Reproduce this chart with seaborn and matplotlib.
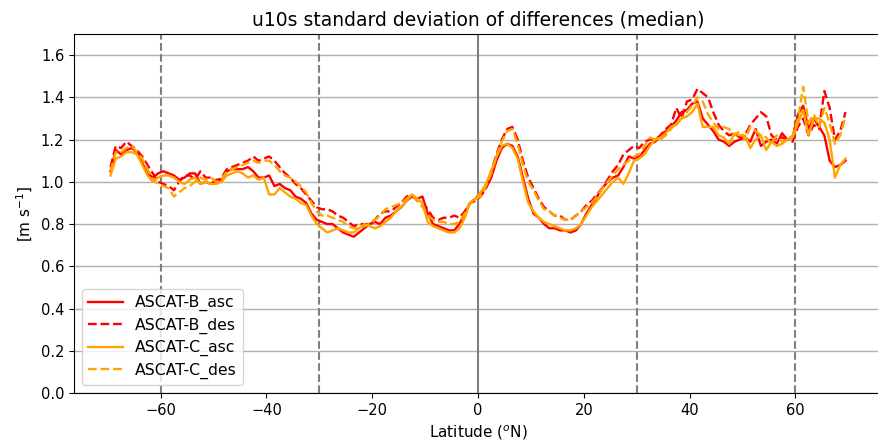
import numpy as np
import pandas as pd
import matplotlib
matplotlib.use('Agg')
import matplotlib.pyplot as plt
import seaborn as sns

# Latitude bin centres
lat = np.arange(-69.5, 70, 1.0)

# ASCAT-B ascending
b_asc = [1.05, 1.15, 1.13, 1.15, 1.16, 1.14, 1.09, 1.04, 1.02, 1.04,
         1.05, 1.04, 1.03, 1.01, 1.02, 1.04, 1.04, 0.99, 1.00, 0.99,
         1.01, 1.01, 1.05, 1.06, 1.06, 1.06, 1.07, 1.05, 1.02, 1.02,
         1.03, 0.98, 0.99, 0.97, 0.96, 0.93, 0.92, 0.90, 0.85, 0.82,
         0.81, 0.80, 0.80, 0.78, 0.76, 0.75, 0.74, 0.76, 0.78, 0.80,
         0.81, 0.80, 0.83, 0.84, 0.86, 0.88, 0.91, 0.93, 0.92, 0.93,
         0.85, 0.80, 0.79, 0.78, 0.77, 0.77, 0.80, 0.85, 0.90, 0.92,
         0.95, 0.97, 1.02, 1.10, 1.16, 1.18, 1.17, 1.12, 1.02, 0.92,
         0.85, 0.83, 0.80, 0.78, 0.78, 0.77, 0.77, 0.76, 0.77, 0.80,
         0.85, 0.89, 0.93, 0.97, 1.00, 1.02, 1.03, 1.07, 1.12, 1.11,
         1.12, 1.15, 1.18, 1.19, 1.22, 1.24, 1.26, 1.29, 1.33, 1.34,
         1.37, 1.38, 1.30, 1.27, 1.24, 1.20, 1.19, 1.17, 1.19, 1.20,
         1.21, 1.19, 1.25, 1.17, 1.19, 1.20, 1.18, 1.23, 1.20, 1.21,
         1.32, 1.36, 1.25, 1.30, 1.26, 1.22, 1.10, 1.07, 1.08, 1.10]

# ASCAT-B descending
b_des = [1.07, 1.17, 1.16, 1.19, 1.17, 1.15, 1.12, 1.08, 1.04, 1.00,
         0.99, 0.98, 0.96, 1.00, 1.03, 1.03, 1.01, 1.05, 1.02, 1.02,
         1.00, 1.02, 1.06, 1.07, 1.08, 1.09, 1.10, 1.12, 1.10, 1.11,
         1.12, 1.10, 1.07, 1.04, 1.02, 0.99, 0.97, 0.94, 0.91, 0.88,
         0.87, 0.87, 0.86, 0.84, 0.83, 0.81, 0.79, 0.80, 0.80, 0.80,
         0.82, 0.85, 0.86, 0.86, 0.88, 0.90, 0.93, 0.94, 0.91, 0.90,
         0.87, 0.83, 0.82, 0.83, 0.83, 0.84, 0.83, 0.86, 0.90, 0.91,
         0.93, 0.97, 1.05, 1.13, 1.20, 1.25, 1.26, 1.20, 1.10, 1.02,
         0.97, 0.92, 0.88, 0.86, 0.84, 0.84, 0.82, 0.82, 0.84, 0.86,
         0.89, 0.91, 0.94, 0.97, 1.01, 1.05, 1.08, 1.13, 1.15, 1.17,
         1.16, 1.19, 1.20, 1.20, 1.22, 1.25, 1.27, 1.35, 1.30, 1.38,
         1.39, 1.44, 1.42, 1.40, 1.33, 1.27, 1.24, 1.22, 1.23, 1.21,
         1.22, 1.27, 1.30, 1.33, 1.31, 1.22, 1.20, 1.21, 1.20, 1.19,
         1.26, 1.30, 1.22, 1.27, 1.25, 1.43, 1.35, 1.20, 1.24, 1.33]

# ASCAT-C ascending
c_asc = [1.03, 1.11, 1.12, 1.14, 1.14, 1.13, 1.08, 1.03, 1.00, 1.02,
         1.03, 1.03, 1.02, 1.00, 0.99, 1.01, 1.02, 0.99, 1.00, 0.99,
         0.99, 1.00, 1.03, 1.04, 1.05, 1.04, 1.02, 1.03, 1.01, 1.02,
         0.94, 0.94, 0.97, 0.95, 0.93, 0.92, 0.90, 0.89, 0.84, 0.80,
         0.78, 0.76, 0.77, 0.78, 0.77, 0.76, 0.76, 0.78, 0.80, 0.79,
         0.78, 0.79, 0.81, 0.83, 0.86, 0.88, 0.91, 0.94, 0.92, 0.90,
         0.81, 0.79, 0.78, 0.77, 0.76, 0.76, 0.78, 0.83, 0.90, 0.92,
         0.95, 0.99, 1.05, 1.12, 1.17, 1.18, 1.16, 1.11, 1.00, 0.90,
         0.86, 0.83, 0.81, 0.80, 0.79, 0.78, 0.77, 0.77, 0.78, 0.80,
         0.84, 0.88, 0.91, 0.94, 0.97, 1.00, 1.02, 0.99, 1.04, 1.10,
         1.11, 1.13, 1.17, 1.20, 1.21, 1.23, 1.26, 1.27, 1.30, 1.31,
         1.33, 1.37, 1.26, 1.26, 1.26, 1.22, 1.21, 1.18, 1.23, 1.22,
         1.22, 1.16, 1.20, 1.22, 1.15, 1.19, 1.17, 1.18, 1.20, 1.21,
         1.28, 1.34, 1.22, 1.30, 1.30, 1.28, 1.20, 1.02, 1.08, 1.11]

# ASCAT-C descending
c_des = [1.05, 1.14, 1.14, 1.16, 1.17, 1.14, 1.11, 1.06, 1.01, 0.99,
         0.98, 0.97, 0.93, 0.95, 0.97, 0.98, 1.00, 1.02, 1.01, 1.02,
         1.00, 1.01, 1.05, 1.06, 1.07, 1.08, 1.09, 1.10, 1.09, 1.10,
         1.10, 1.08, 1.05, 1.03, 1.02, 1.00, 0.98, 0.95, 0.90, 0.86,
         0.84, 0.84, 0.83, 0.82, 0.81, 0.79, 0.78, 0.78, 0.79, 0.80,
         0.82, 0.84, 0.87, 0.88, 0.89, 0.90, 0.92, 0.94, 0.91, 0.88,
         0.84, 0.82, 0.81, 0.81, 0.80, 0.80, 0.81, 0.85, 0.90, 0.92,
         0.93, 0.98, 1.04, 1.12, 1.19, 1.24, 1.25, 1.18, 1.08, 1.00,
         0.96, 0.91, 0.87, 0.86, 0.84, 0.83, 0.82, 0.82, 0.84, 0.86,
         0.88, 0.90, 0.93, 0.97, 1.00, 1.03, 1.06, 1.08, 1.10, 1.12,
         1.13, 1.17, 1.21, 1.20, 1.20, 1.22, 1.25, 1.28, 1.30, 1.33,
         1.36, 1.40, 1.38, 1.32, 1.28, 1.25, 1.26, 1.25, 1.22, 1.24,
         1.20, 1.26, 1.24, 1.22, 1.21, 1.18, 1.22, 1.19, 1.20, 1.22,
         1.30, 1.45, 1.28, 1.32, 1.26, 1.35, 1.28, 1.18, 1.22, 1.31]

series = [('ASCAT-B_asc', b_asc, 'red', '-'),
          ('ASCAT-B_des', b_des, 'red', '--'),
          ('ASCAT-C_asc', c_asc, 'orange', '-'),
          ('ASCAT-C_des', c_des, 'orange', '--')]

plt.rcParams['font.size'] = 11

# Figure, axes placed by hand (right spine falls just off the picture)
fig = plt.figure(figsize = (8.79, 4.41), dpi = 100)
ax = fig.add_axes([74/879, 48/441, 808/879, 359/441])

for name, vals, col, ls in series:
  sns.lineplot(x = lat, y = vals, color = col, linestyle = ls,
               linewidth = 1.7, label = name, ax = ax)

# Reference latitudes
for v in [-60, -30, 30, 60]:
  ax.axvline(v, color = 'grey', linestyle = '--', linewidth = 1.5, zorder = 1)
ax.axvline(0, color = 'grey', linestyle = '-', linewidth = 1.5, zorder = 1)

ax.grid(axis = 'y', color = '#b0b0b0', linewidth = 1)
ax.set_axisbelow(True)
ax.set_xlim(-76.4, 76.4)
ax.set_ylim(0, 1.7)
ax.set_yticks(np.arange(0, 1.61, 0.2))
ax.tick_params(labelsize = 10.5)
ax.set_title('u10s standard deviation of differences (median)', size = 13.5)
ax.set_xlabel('Latitude ($^o$N)', size = 11)
ax.set_ylabel('[m s$^{-1}$]', size = 11)
ax.legend(loc = 'lower left', fontsize = 11.3, handlelength = 2.2,
          labelspacing = 0.4)

fig.savefig('out.png', dpi = 100)
